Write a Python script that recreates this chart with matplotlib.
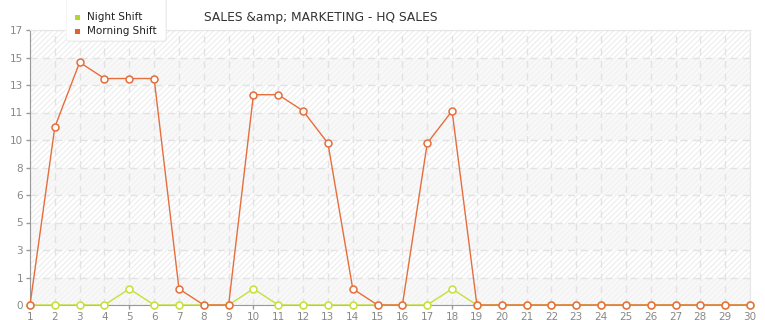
import matplotlib
matplotlib.use("Agg")
import matplotlib.pyplot as plt
from matplotlib.patches import Rectangle, FancyBboxPatch

days = list(range(1, 31))
night_shift = [0, 0, 0, 0, 1, 0, 0, 0, 0, 1, 0, 0, 0, 0, 0, 0, 0, 1, 0, 0,
               0, 0, 0, 0, 0, 0, 0, 0, 0, 0]
morning_shift = [0, 11, 15, 14, 14, 14, 1, 0, 0, 13, 13, 12, 10, 1, 0, 0, 10, 12, 0, 0,
                 0, 0, 0, 0, 0, 0, 0, 0, 0, 0]
y_max = 17
y_ticks = [y_max * i / 10 for i in range(11)]
y_labels = [str(int(v)) for v in y_ticks]
title = "SALES &amp; MARKETING - HQ SALES"

plt.rcParams['hatch.linewidth'] = 0.7
plt.rcParams['font.family'] = ['DejaVu Sans']

fig = plt.figure(figsize=(7.65, 3.2), dpi=100)
ax = fig.add_axes([30/765, 15/320, 720/765, 275/320])
ax.set_xlim(1, 30)
ax.set_ylim(0, y_max)

# background bands and hatch
ax.add_patch(Rectangle((0, 0), 1, 1, transform=ax.transAxes, facecolor='white',
                       edgecolor='#ebebeb', hatch='//////', lw=0, zorder=0))
for i in range(0, 10, 2):
    ax.axhspan(y_ticks[i], y_ticks[i+1], facecolor='#f4f4f4', alpha=0.6, lw=0, zorder=0.5)

ax.set_yticks(y_ticks)
ax.set_yticklabels(y_labels)
ax.set_xticks(days)
ax.set_xticklabels([str(d) for d in days])
ax.grid(True, color='#e2e2e2', linestyle=(0, (5, 4)), linewidth=1, zorder=1)
ax.set_axisbelow(True)

ax.tick_params(axis='both', colors='#999999', labelsize=7.5, length=3, width=1)
ax.tick_params(axis='x', pad=2)
ax.tick_params(axis='y', pad=2)
for lbl in ax.get_xticklabels() + ax.get_yticklabels():
    lbl.set_color('#888888')
ax.spines['left'].set_color('#999999')
ax.spines['bottom'].set_color('#999999')
ax.spines['top'].set_color('#e6e6e6')
ax.spines['right'].set_color('#e6e6e6')

green = '#c5e03a'
orange = '#e66e3c'
ax.plot(days, night_shift, color=green, lw=1, marker='o', markersize=5,
        markerfacecolor='white', markeredgecolor=green, markeredgewidth=1.1, zorder=3, clip_on=False)
ax.plot(days, morning_shift, color=orange, lw=1, marker='o', markersize=5,
        markerfacecolor='white', markeredgecolor=orange, markeredgewidth=1.1, zorder=4, clip_on=False)

fig.text(321/765, 1 - 17/320, title, ha='center', va='center', fontsize=8.8, color='#333333')

# legend
leg_ax = fig.add_axes([66/765, 1 - 44/320, 102/765, 44/320])
leg_ax.set_xlim(0, 102)
leg_ax.set_ylim(44, 0)
leg_ax.axis('off')
leg_ax.add_patch(FancyBboxPatch((1, -5), 100, 47, boxstyle='round,pad=0,rounding_size=3',
                                facecolor='#dddddd', edgecolor='none', alpha=0.5))
leg_ax.add_patch(FancyBboxPatch((0, -6), 100, 47, boxstyle='round,pad=0,rounding_size=3',
                                facecolor='white', edgecolor='#eeeeee', lw=0.8))
leg_ax.add_patch(Rectangle((9, 15), 5, 5, facecolor='#b5d52a', edgecolor='none'))
leg_ax.add_patch(Rectangle((9, 29), 5, 5, facecolor='#e0622c', edgecolor='none'))
leg_ax.text(21, 17.5, 'Night Shift', va='center', ha='left', fontsize=7.5, color='#222222')
leg_ax.text(21, 31.5, 'Morning Shift', va='center', ha='left', fontsize=7.5, color='#222222')

fig.savefig('out.png', dpi=100)
